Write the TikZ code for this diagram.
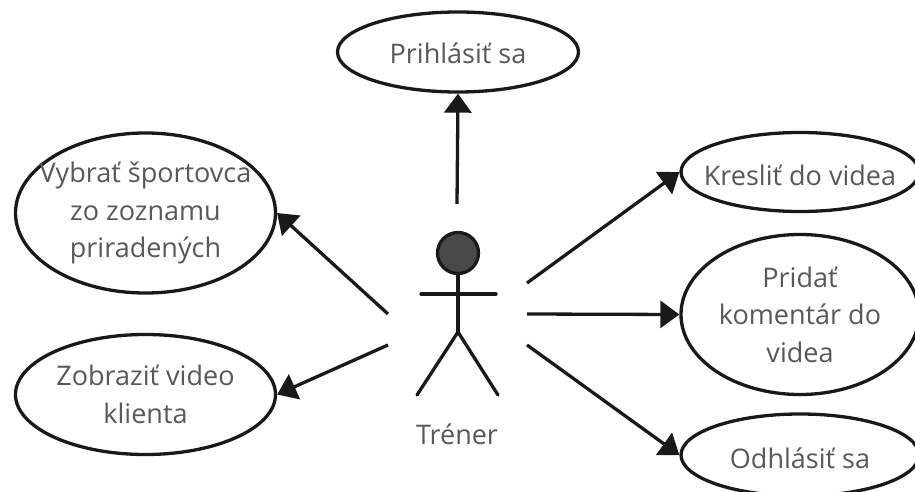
\documentclass[tikz,border=0pt]{standalone}
\usepackage{fontspec}
\setmainfont{Open Sans}
\usepackage{tikz}
\usetikzlibrary{shapes.geometric, arrows.meta}
\definecolor{textgray}{RGB}{88, 88, 88}
\definecolor{headgray}{RGB}{72, 72, 72}
\tikzstyle{usecase} = [ellipse, draw=black!90, line width=3.3pt, inner sep=-45pt, text centered, align=center, text=textgray, font=\fontsize{27}{37.5}\selectfont]
\tikzstyle{lowered} = [execute at begin node={\rule{0pt}{#1}}]
\tikzstyle{arrow} = [line width=3.3pt, black!90, -{Triangle[length=19pt,width=27pt]}]
\tikzstyle{limb} = [line width=3.3pt, black!90, line cap=round]

\begin{document}
\begin{tikzpicture}[x=1pt,y=-1pt]
    \useasboundingbox (0, 0) rectangle (915, 492);

    % Use cases
    \node[usecase, lowered=24pt, minimum width=241pt, minimum height=80pt] (login) at (458, 52) {Prihlásiť sa};
    \node[usecase, lowered=33pt, minimum width=260pt, minimum height=160pt] (pick) at (145.5, 213) {Vybrať športovca\\zo zoznamu\\priradených};
    \node[usecase, lowered=31pt, minimum width=260pt, minimum height=120pt] (show) at (145.5, 394.5) {Zobraziť video\\klienta};
    \node[usecase, lowered=28pt, minimum width=238pt, minimum height=79pt] (draw) at (800, 172) {Kresliť do videa};
    \node[usecase, lowered=27pt, minimum width=238pt, minimum height=160pt] (comment) at (800, 314.5) {Pridať\\komentár do\\videa};
    \node[usecase, lowered=28pt, minimum width=238pt, minimum height=82pt] (logout) at (800, 455) {Odhlásiť sa};

    % Actor
    \node[circle, draw=black!90, line width=3.3pt, fill=headgray, minimum size=41pt, inner sep=0pt] (head) at (458, 253) {};
    \coordinate (hip) at (458, 332);
    \coordinate (armL) at (421, 294);
    \coordinate (armR) at (496, 294);
    \coordinate (footL) at (417, 395);
    \coordinate (footR) at (498, 395);
    \draw[limb] (head) -- (hip);
    \draw[limb] (armL) -- (armR);
    \draw[limb] (footL) -- (hip) -- (footR);
    \node[text=textgray, font=\fontsize{27}{37.5}\selectfont] (trainer) at (457, 434) {Tréner};

    % Arrow ends
    \coordinate (toLogin) at (457, 204);
    \coordinate (toPick) at (388, 314);
    \coordinate (toShow) at (388, 345);
    \coordinate (toDraw) at (527, 283);
    \coordinate (toComment) at (527, 314);
    \coordinate (toLogout) at (527, 345);

    % Arrows
    \draw[arrow] (toLogin) -- (login.south);
    \draw[arrow] (toPick) -- (pick.east);
    \draw[arrow] (toShow) -- (show.east);
    \draw[arrow] (toDraw) -- (draw.west);
    \draw[arrow] (toComment) -- (comment.west);
    \draw[arrow] (toLogout) -- (logout.west);
\end{tikzpicture}
\end{document}
